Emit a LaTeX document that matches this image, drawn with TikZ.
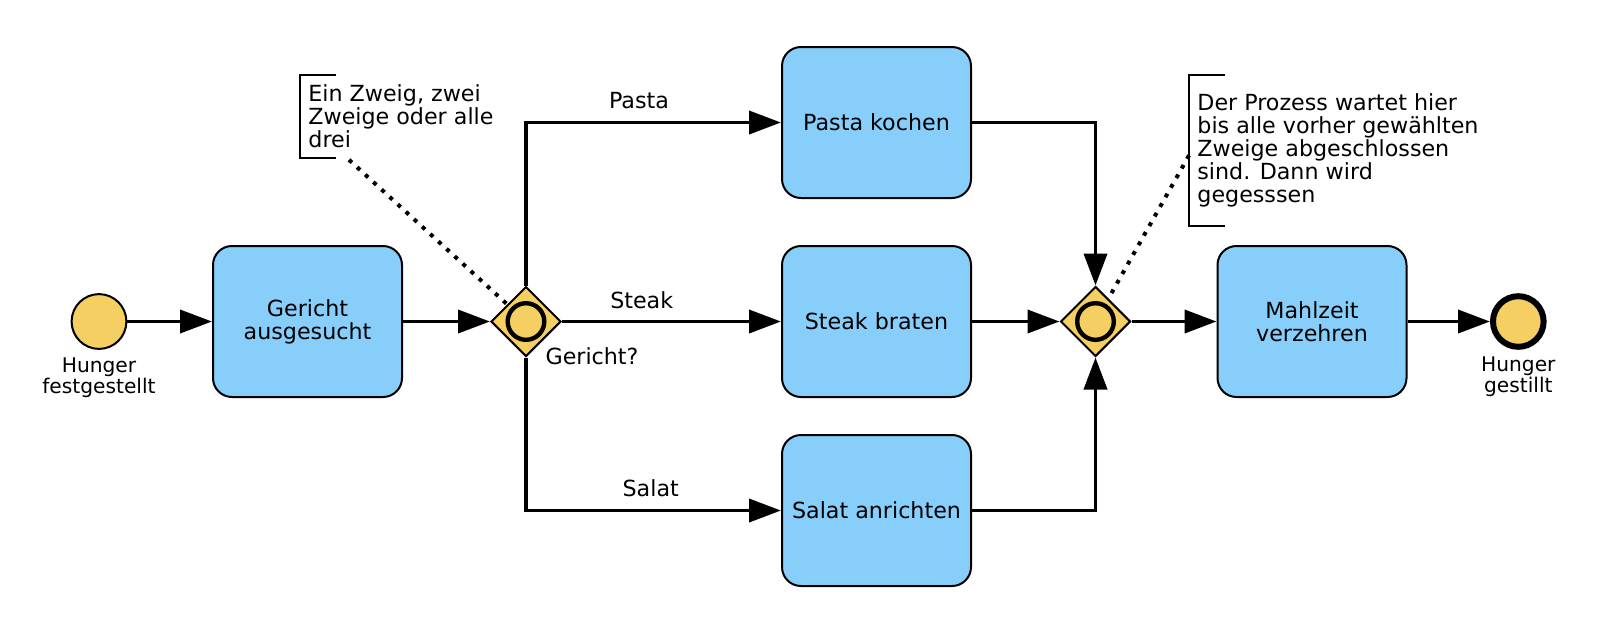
\documentclass[tikz,border=0pt]{standalone}
\usepackage{fontspec}
\setmainfont{DejaVu Sans}
\usetikzlibrary{arrows.meta,shapes.geometric}
\definecolor{taskblue}{RGB}{135,206,250}
\definecolor{eventyellow}{RGB}{245,207,98}

\begin{document}
\begin{tikzpicture}[x=0.5pt,y=-0.5pt,
	task/.style={draw,line width=1pt,fill=taskblue,rounded corners=9.5pt,minimum width=94.5pt,minimum height=75.5pt,align=center,inner sep=2pt,font=\fontsize{11.1pt}{11.4pt}\selectfont},
	gateway/.style={draw,line width=1pt,fill=eventyellow,diamond,minimum size=35pt,inner sep=0pt},
	ring/.style={draw,circle,line width=2.2pt,minimum size=18.3pt,inner sep=0pt},
	startev/.style={draw,circle,line width=1pt,fill=eventyellow,minimum size=27.4pt,inner sep=0pt},
	endev/.style={draw,circle,line width=3pt,fill=eventyellow,minimum size=25.3pt,inner sep=0pt},
	evlabel/.style={align=center,inner sep=0pt,font=\fontsize{10.1pt}{10.4pt}\selectfont},
	flowlabel/.style={inner sep=0pt,font=\fontsize{11.1pt}{11.4pt}\selectfont},
	annot/.style={anchor=north west,align=left,inner xsep=4pt,inner ysep=0pt,font=\fontsize{11.1pt}{11.4pt}\selectfont},
	bracket/.style={line width=1pt},
	flow/.style={line width=1.9pt,-{Triangle[length=16pt,width=11.5pt]}},
	assoc/.style={line width=2pt,dash pattern=on 2pt off 3.5pt}]
	\useasboundingbox (0,0) rectangle (1600,634);

	\node[startev] (start) at (99,321.5) {};
	\node[evlabel] (startlbl) at (99,378) {Hunger\\festgestellt};

	\node[task] (gericht) at (307.5,321.5) {Gericht\\ausgesucht};

	\node[gateway] (gwa) at (526,321.5) {};
	\node[ring] (gwaring) at (526,321.5) {};
	\node[flowlabel] (gwalbl) at (592,356) {Gericht?};

	\node[task] (pasta) at (876.5,122.5) {Pasta kochen};
	\node[task] (steak) at (876.5,321.5) {Steak braten};
	\node[task] (salat) at (876.5,510.5) {Salat anrichten};

	\node[flowlabel] (pastalbl) at (639,100.7) {Pasta};
	\node[flowlabel] (steaklbl) at (641.7,300.7) {Steak};
	\node[flowlabel] (salatlbl) at (650.7,488.3) {Salat};

	\node[gateway] (gwb) at (1095.5,321.5) {};
	\node[ring] (gwbring) at (1095.5,321.5) {};

	\node[task] (mahlzeit) at (1312,321.5) {Mahlzeit\\verzehren};

	\node[endev] (end) at (1518.3,321.5) {};
	\node[evlabel] (endlbl) at (1518.3,376.5) {Hunger\\gestillt};

	% annotations
	\node[annot,minimum height=41pt] (notea) at (300,75) {Ein Zweig, zwei\\Zweige oder alle\\drei};
	\node[annot,minimum height=75pt] (noteb) at (1189,75) {Der Prozess wartet hier\\bis alle vorher gewählten\\Zweige abgeschlossen\\sind. Dann wird\\gegesssen};
	\draw[bracket] ([xshift=18pt]notea.north west) -- (notea.north west) -- (notea.south west) -- ([xshift=18pt]notea.south west);
	\draw[bracket] ([xshift=18pt]noteb.north west) -- (noteb.north west) -- (noteb.south west) -- ([xshift=18pt]noteb.south west);
	\coordinate (noteatail) at ([xshift=24.5pt,yshift=-1pt]notea.south west);
	\coordinate (notebtail) at ([yshift=-2.5pt]noteb.west);
	\draw[assoc] (noteatail) -- (gwa);
	\draw[assoc] (notebtail) -- (gwb);

	% sequence flows
	\draw[flow] (start) -- (gericht);
	\draw[flow] (gericht) -- (gwa);
	\draw[flow] (gwa.north) |- (pasta);
	\draw[flow] (gwa) -- (steak);
	\draw[flow] (gwa.south) |- (salat);
	\draw[flow] (pasta) -| (gwb);
	\draw[flow] (steak) -- (gwb);
	\draw[flow] (salat) -| (gwb);
	\draw[flow] (gwb) -- (mahlzeit);
	\draw[flow] (mahlzeit) -- (end);
\end{tikzpicture}
\end{document}
